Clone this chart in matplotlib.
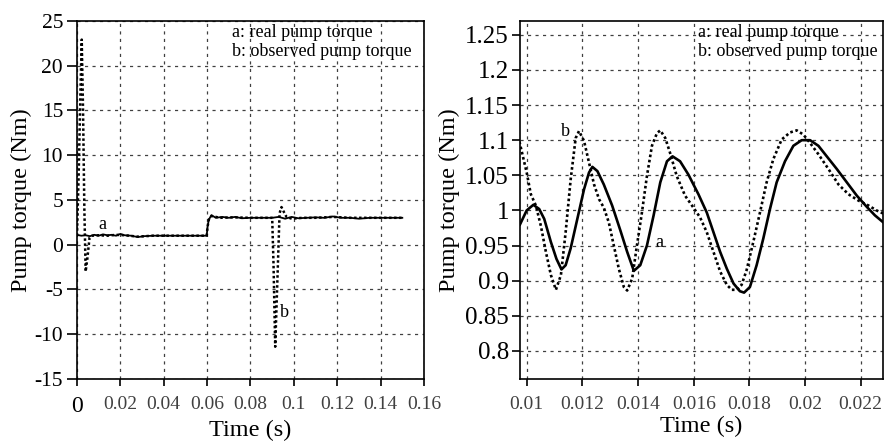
import numpy as np
import matplotlib
matplotlib.use("Agg")
import matplotlib.pyplot as plt

plt.rcParams['font.family'] = ['Liberation Serif', 'DejaVu Serif']
plt.rcParams['axes.unicode_minus'] = False

# --- left panel: whole run ---
t_real_full = [0, 0.002, 0.004, 0.006, 0.008, 0.010, 0.012, 0.014, 0.016, 0.018,
               0.020, 0.022, 0.025, 0.028, 0.031, 0.035, 0.040, 0.045, 0.050, 0.055,
               0.0598, 0.0602, 0.0608, 0.062, 0.064, 0.067, 0.070, 0.073, 0.076, 0.080,
               0.085, 0.090, 0.093, 0.096, 0.099, 0.102, 0.106, 0.110, 0.114, 0.118,
               0.122, 0.126, 0.130, 0.135, 0.140, 0.145, 0.150]
real_full = [1.1, 1.0, 1.05, 0.95, 1.1, 1.0, 1.15, 1.05, 1.1, 1.0,
             1.2, 1.05, 1.0, 0.85, 0.95, 1.0, 1.0, 1.0, 1.0, 1.0,
             1.0, 2.0, 2.8, 3.3, 3.0, 3.1, 3.0, 3.1, 2.95, 3.0,
             3.0, 3.0, 3.1, 2.9, 3.1, 2.95, 3.0, 3.05, 3.0, 3.15,
             3.0, 3.0, 2.9, 3.0, 3.0, 3.0, 3.0]

t_obs_full = [0, 0.0008, 0.0016, 0.0022, 0.0028, 0.0034, 0.0040, 0.0048, 0.0058, 0.0070,
              0.010, 0.014, 0.018, 0.022, 0.028, 0.035, 0.045, 0.055, 0.0598, 0.0602,
              0.0608, 0.062, 0.066, 0.072, 0.080, 0.086, 0.0900, 0.0906, 0.0914, 0.0924,
              0.0934, 0.0943, 0.0955, 0.0966, 0.099, 0.104, 0.110, 0.118, 0.126, 0.135,
              0.145, 0.150]
obs_full = [1.0, 8.0, 17.0, 22.9, 15.0, 4.0, -3.0, -1.5, 0.8, 1.0,
            1.05, 1.0, 1.1, 1.05, 0.9, 1.0, 1.0, 1.0, 1.0, 2.0,
            2.8, 3.2, 3.0, 3.05, 3.0, 3.0, 3.0, -2.0, -11.4, -4.0,
            3.5, 4.2, 3.6, 3.1, 2.9, 3.0, 3.0, 3.1, 3.0, 3.0,
            3.0, 3.0]

# --- right panel: zoom on 0.0098 .. 0.0228 s ---
t_real_zoom = [0.00976, 0.01000, 0.01024, 0.01045, 0.01063, 0.01087, 0.01107, 0.01125,
               0.01140, 0.01158, 0.01182, 0.01206, 0.01224, 0.01236, 0.01254, 0.01277,
               0.01307, 0.01337, 0.01361, 0.01385, 0.01408, 0.01432, 0.01456, 0.01480,
               0.01504, 0.01524, 0.01551, 0.01581, 0.01617, 0.01647, 0.01671, 0.01695,
               0.01719, 0.01743, 0.01766, 0.01781, 0.01802, 0.01826, 0.01850, 0.01874,
               0.01898, 0.01928, 0.01958, 0.01988, 0.02018, 0.02048, 0.02078, 0.02114,
               0.02150, 0.02186, 0.02222, 0.02251, 0.02284]
real_zoom = [0.980, 1.000, 1.008, 1.002, 0.988, 0.955, 0.931, 0.916,
             0.922, 0.946, 0.988, 1.030, 1.054, 1.062, 1.056, 1.037,
             1.007, 0.971, 0.941, 0.914, 0.922, 0.950, 0.993, 1.040,
             1.070, 1.077, 1.070, 1.051, 1.023, 0.997, 0.969, 0.941,
             0.917, 0.896, 0.885, 0.883, 0.891, 0.922, 0.960, 1.002,
             1.040, 1.070, 1.092, 1.100, 1.100, 1.092, 1.077, 1.059,
             1.040, 1.021, 1.005, 0.993, 0.982]

t_obs_zoom = [0.00974, 0.01000, 0.01015, 0.01033, 0.01051, 0.01069, 0.01087, 0.01105,
              0.01123, 0.01140, 0.01158, 0.01176, 0.01188, 0.01206, 0.01224, 0.01242,
              0.01260, 0.01277, 0.01295, 0.01313, 0.01331, 0.01349, 0.01361, 0.01379,
              0.01396, 0.01414, 0.01432, 0.01450, 0.01468, 0.01480, 0.01498, 0.01515,
              0.01539, 0.01569, 0.01599, 0.01623, 0.01647, 0.01671, 0.01695, 0.01719,
              0.01737, 0.01755, 0.01772, 0.01790, 0.01814, 0.01838, 0.01862, 0.01886,
              0.01916, 0.01946, 0.01970, 0.01994, 0.02018, 0.02048, 0.02084, 0.02120,
              0.02156, 0.02192, 0.02228, 0.02257, 0.02284]
obs_zoom = [1.098, 1.054, 1.023, 1.007, 0.978, 0.941, 0.908, 0.887,
            0.908, 0.969, 1.044, 1.103, 1.113, 1.099, 1.068, 1.037,
            1.016, 1.004, 0.983, 0.950, 0.917, 0.891, 0.886, 0.903,
            0.950, 0.997, 1.049, 1.092, 1.110, 1.114, 1.103, 1.082,
            1.049, 1.021, 1.004, 0.990, 0.969, 0.941, 0.913, 0.894,
            0.887, 0.887, 0.894, 0.915, 0.955, 0.997, 1.040, 1.073,
            1.101, 1.111, 1.114, 1.108, 1.096, 1.080, 1.059, 1.037,
            1.023, 1.014, 1.007, 1.000, 0.995]

left_xticks = [0, 0.02, 0.04, 0.06, 0.08, 0.10, 0.12, 0.14, 0.16]
left_xlabels = ['0', '0.02', '0.04', '0.06', '0.08', '0.1', '0.12', '0.14', '0.16']
left_yticks = [-15, -10, -5, 0, 5, 10, 15, 20, 25]
right_xticks = [0.010, 0.012, 0.014, 0.016, 0.018, 0.020, 0.022]
right_xlabels = ['0.01', '0.012', '0.014', '0.016', '0.018', '0.02', '0.022']
right_yticks = [0.8, 0.85, 0.9, 0.95, 1.0, 1.05, 1.1, 1.15, 1.2, 1.25]
right_ylabels = ['0.8', '0.85', '0.9', '0.95', '1', '1.05', '1.1', '1.15', '1.2', '1.25']

fig = plt.figure(figsize=(8.93, 4.45), dpi=100)
ax1 = fig.add_axes([0.0862, 0.1483, 0.3886, 0.805])
ax2 = fig.add_axes([0.5823, 0.1483, 0.4065, 0.805])

grid_kw = dict(color='0.25', linestyle=(0, (2.5, 3.5)), linewidth=0.9)
dot = (0, (1, 1))

for ax in (ax1, ax2):
    ax.grid(True, **grid_kw)
    ax.set_axisbelow(True)
    for s in ax.spines.values():
        s.set_linewidth(1.2)
    ax.tick_params(axis='y', direction='out', length=7, width=1.2, pad=3, labelsize=15.5)
    ax.tick_params(axis='x', direction='out', length=5, width=1.2, pad=7,
                   labelsize=14, labelcolor='0.25')
    ax.set_xlabel('Time (s)', fontsize=17.5, labelpad=2)

ax1.set_ylabel('Pump torque (Nm)', fontsize=17.5, labelpad=2)
ax2.set_ylabel('Pump torque (Nm)', fontsize=17.5, labelpad=4)

# left
ax1.plot(t_real_full, real_full, color='black', lw=1.3)
ax1.plot(t_obs_full, obs_full, color='black', lw=1.8, linestyle=dot)
ax1.set_xlim(0, 0.16)
ax1.set_ylim(-15, 25)
ax1.set_xticks(left_xticks)
ax1.set_xticklabels(left_xlabels)
ax1.get_xticklabels()[0].set_fontsize(17)
ax1.get_xticklabels()[0].set_color('black')
ax1.set_yticks(left_yticks)
ax1.set_yticklabels([str(v) for v in left_yticks])
ax1.text(0.0117, 2.2, 'a', fontsize=13, ha='center', va='center')
ax1.text(0.0958, -7.6, 'b', fontsize=13, ha='center', va='center')
ax1.text(0.446, 0.99, 'a: real pump torque\nb: observed pump torque', transform=ax1.transAxes,
         fontsize=13, ha='left', va='top', linespacing=1.1)

# right
ax2.plot(t_real_zoom, real_zoom, color='black', lw=1.9)
ax2.plot(t_obs_zoom, obs_zoom, color='black', lw=1.9, linestyle=dot)
ax2.set_xlim(0.00976, 0.0228)
ax2.set_ylim(0.76, 1.27)
ax2.set_xticks(right_xticks)
ax2.set_xticklabels(right_xlabels)
ax2.set_yticks(right_yticks)
ax2.set_yticklabels(right_ylabels)
ax2.tick_params(axis='y', length=6, pad=2, labelsize=18)
ax2.text(0.01141, 1.112, 'b', fontsize=13, ha='center', va='center')
ax2.text(0.01475, 0.954, 'a', fontsize=13, ha='center', va='center')
ax2.text(0.491, 0.99, 'a: real pump torque\nb: observed pump torque', transform=ax2.transAxes,
         fontsize=13, ha='left', va='top', linespacing=1.1)

fig.savefig('out.png', dpi=100)
